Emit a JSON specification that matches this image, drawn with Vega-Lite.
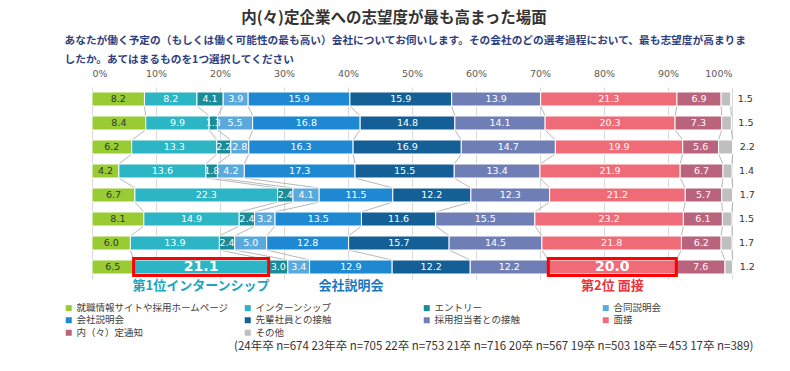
{
  "$schema": "https://vega.github.io/schema/vega-lite/v6.json",
  "width": 640,
  "height": 192,
  "autosize": {"type": "none"},
  "padding": {"left": 92, "top": 87, "right": 58, "bottom": 92},
  "background": "white",
  "config": {"view": {"stroke": null}, "font": "Noto Sans CJK JP"},
  "title": {
    "text": "内(々)定企業への志望度が最も高まった場面",
    "font": "Noto Sans CJK JP",
    "fontSize": 15.5,
    "fontWeight": "bold",
    "color": "#333333",
    "anchor": "middle",
    "dx": -18,
    "offset": 8
  },
  "data": {
    "values": [
      {"y": "17卒", "就職情報サイトや採用ホームページ": 8.2, "インターンシップ": 8.2, "エントリー": 4.1, "合同説明会": 3.9, "会社説明会": 15.9, "先輩社員との接触": 15.9, "採用担当者との接触": 13.9, "面接": 21.3, "内（々）定通知": 6.9, "その他": 1.5},
      {"y": "18卒", "就職情報サイトや採用ホームページ": 8.4, "インターンシップ": 9.9, "エントリー": 1.3, "合同説明会": 5.5, "会社説明会": 16.8, "先輩社員との接触": 14.8, "採用担当者との接触": 14.1, "面接": 20.3, "内（々）定通知": 7.3, "その他": 1.5},
      {"y": "19卒", "就職情報サイトや採用ホームページ": 6.2, "インターンシップ": 13.3, "エントリー": 2.2, "合同説明会": 2.8, "会社説明会": 16.3, "先輩社員との接触": 16.9, "採用担当者との接触": 14.7, "面接": 19.9, "内（々）定通知": 5.6, "その他": 2.2},
      {"y": "20卒", "就職情報サイトや採用ホームページ": 4.2, "インターンシップ": 13.6, "エントリー": 1.8, "合同説明会": 4.2, "会社説明会": 17.3, "先輩社員との接触": 15.5, "採用担当者との接触": 13.4, "面接": 21.9, "内（々）定通知": 6.7, "その他": 1.4},
      {"y": "21卒", "就職情報サイトや採用ホームページ": 6.7, "インターンシップ": 22.3, "エントリー": 2.4, "合同説明会": 4.1, "会社説明会": 11.5, "先輩社員との接触": 12.2, "採用担当者との接触": 12.3, "面接": 21.2, "内（々）定通知": 5.7, "その他": 1.7},
      {"y": "22卒", "就職情報サイトや採用ホームページ": 8.1, "インターンシップ": 14.9, "エントリー": 2.4, "合同説明会": 3.2, "会社説明会": 13.5, "先輩社員との接触": 11.6, "採用担当者との接触": 15.5, "面接": 23.2, "内（々）定通知": 6.1, "その他": 1.5},
      {"y": "23卒", "就職情報サイトや採用ホームページ": 6.0, "インターンシップ": 13.9, "エントリー": 2.4, "合同説明会": 5.0, "会社説明会": 12.8, "先輩社員との接触": 15.7, "採用担当者との接触": 14.5, "面接": 21.8, "内（々）定通知": 6.2, "その他": 1.7},
      {"y": "24卒", "就職情報サイトや採用ホームページ": 6.5, "インターンシップ": 21.1, "エントリー": 3.0, "合同説明会": 3.4, "会社説明会": 12.9, "先輩社員との接触": 12.2, "採用担当者との接触": 12.2, "面接": 20.0, "内（々）定通知": 7.6, "その他": 1.2}
    ]
  },
  "transform": [
    {"fold": ["就職情報サイトや採用ホームページ", "インターンシップ", "エントリー", "合同説明会", "会社説明会", "先輩社員との接触", "採用担当者との接触", "面接", "内（々）定通知", "その他"], "as": ["c", "v"]},
    {"window": [{"op": "row_number", "as": "k"}], "groupby": ["y"]}
  ],
  "layer": [
    {
      "transform": [
        {"window": [{"op": "sum", "field": "v", "as": "cum"}], "groupby": ["y"], "sort": [{"field": "k"}], "frame": [null, 0]},
        {"window": [{"op": "lead", "field": "cum", "as": "ncum"}, {"op": "lead", "field": "y", "as": "ny"}], "groupby": ["c"], "sort": [{"field": "y"}]},
        {"filter": "datum.ny != null"}
      ],
      "mark": {"type": "rule", "color": "#a6a6a6", "strokeWidth": 0.8, "yOffset": 7, "y2Offset": -7},
      "encoding": {
        "x": {"field": "cum", "type": "quantitative", "scale": {"domain": [0, 100], "nice": false}, "axis": null},
        "x2": {"field": "ncum"},
        "y": {"field": "y", "type": "nominal", "axis": null},
        "y2": {"field": "ny"}
      }
    },
    {
      "mark": {"type": "bar", "stroke": "white", "strokeWidth": 1},
      "encoding": {
        "x": {
          "field": "v", "type": "quantitative", "stack": "zero",
          "scale": {"domain": [0, 100], "nice": false},
          "axis": {
            "orient": "top",
            "values": [0, 10, 20, 30, 40, 50, 60, 70, 80, 90, 100],
            "labelExpr": "datum.value + '%'",
            "grid": true, "gridColor": "#d9d9d9", "gridWidth": 1,
            "ticks": false, "tickSize": 0, "domain": false,
            "labelPadding": 9, "labelFont": "DejaVu Sans", "labelFontSize": 9.5, "labelColor": "#595959",
            "title": ["あなたが働く予定の（もしくは働く可能性の最も高い）会社についてお伺いします。その会社のどの選考過程において、最も志望度が高まりま", "したか。あてはまるものを1つ選択してください"],
            "titleX": -28, "titleY": -52, "titleAlign": "left", "titleBaseline": "top", "titleAnchor": "start",
            "titleFont": "Noto Sans CJK JP", "titleFontSize": 10.7, "titleFontWeight": "bold", "titleColor": "#2e3f80", "titleLineHeight": 19.5
          }
        },
        "y": {
          "field": "y", "type": "nominal", "title": null,
          "scale": {"paddingInner": 0.4167, "paddingOuter": 0.2083},
          "axis": {"ticks": false, "domain": false, "labelPadding": 10, "labelFont": "DejaVu Sans, Noto Sans CJK JP", "labelFontSize": 11, "labelColor": "#404040"}
        },
        "color": {
          "field": "c", "type": "nominal",
          "scale": {
            "domain": ["就職情報サイトや採用ホームページ", "インターンシップ", "エントリー", "合同説明会", "会社説明会", "先輩社員との接触", "採用担当者との接触", "面接", "内（々）定通知", "その他"],
            "range": ["#99cc33", "#2bb5c5", "#1a8c99", "#5ba9dc", "#1f88d2", "#135f96", "#6f7fb5", "#f06b78", "#b9647c", "#bfbfbf"]
          },
          "legend": {
            "orient": "none", "legendX": -28, "legendY": 216, "columns": 4, "gridAlign": "all",
            "columnPadding": 14, "rowPadding": 1.5, "symbolType": "square", "symbolSize": 36, "symbolStrokeWidth": 0,
            "labelFont": "Noto Sans CJK JP", "labelFontSize": 9.5, "labelColor": "#404040", "labelLimit": 400,
            "title": null, "labelOffset": 3, "direction": "horizontal"
          }
        },
        "detail": {"field": "c"},
        "order": {"field": "k", "type": "quantitative"}
      }
    },
    {
      "mark": {"type": "bar", "fillOpacity": 0, "stroke": "#ff0000", "strokeWidth": 3, "height": 17},
      "encoding": {
        "x": {"field": "v", "type": "quantitative", "stack": "zero", "axis": null},
        "y": {"field": "y", "type": "nominal", "axis": null},
        "detail": {"field": "c"},
        "order": {"field": "k", "type": "quantitative"},
        "strokeOpacity": {"condition": {"test": "datum.y == '24卒' && (datum.c == 'インターンシップ' || datum.c == '面接')", "value": 1}, "value": 0}
      }
    },
    {
      "mark": {"type": "text", "font": "DejaVu Sans", "fontSize": 9.5, "baseline": "middle", "align": "center"},
      "encoding": {
        "x": {"field": "v", "type": "quantitative", "stack": "zero", "bandPosition": 0.5, "axis": null},
        "y": {"field": "y", "type": "nominal", "axis": null},
        "detail": {"field": "c"},
        "order": {"field": "k", "type": "quantitative"},
        "text": {"field": "v", "type": "quantitative", "format": ".1f"},
        "color": {"condition": {"test": "datum.c == '就職情報サイトや採用ホームページ'", "value": "#333333"}, "value": "#ffffff"},
        "opacity": {"condition": {"test": "(datum.y == '24卒' && (datum.c == 'インターンシップ' || datum.c == '面接')) || datum.c == 'その他'", "value": 0}, "value": 1}
      }
    },
    {
      "mark": {"type": "text", "font": "DejaVu Sans", "fontSize": 14, "fontWeight": "bold", "baseline": "middle", "align": "center", "color": "#ffffff"},
      "encoding": {
        "x": {"field": "v", "type": "quantitative", "stack": "zero", "bandPosition": 0.5, "axis": null},
        "y": {"field": "y", "type": "nominal", "axis": null},
        "detail": {"field": "c"},
        "order": {"field": "k", "type": "quantitative"},
        "text": {"field": "v", "type": "quantitative", "format": ".1f"},
        "opacity": {"condition": {"test": "datum.y == '24卒' && (datum.c == 'インターンシップ' || datum.c == '面接')", "value": 1}, "value": 0}
      }
    },
    {
      "mark": {"type": "text", "font": "DejaVu Sans", "fontSize": 9.5, "baseline": "middle", "align": "left", "dx": 7, "color": "#333333"},
      "encoding": {
        "x": {"field": "v", "type": "quantitative", "stack": "zero", "axis": null},
        "y": {"field": "y", "type": "nominal", "axis": null},
        "detail": {"field": "c"},
        "order": {"field": "k", "type": "quantitative"},
        "text": {"field": "v", "type": "quantitative", "format": ".1f"},
        "opacity": {"condition": {"test": "datum.c == 'その他'", "value": 1}, "value": 0}
      }
    },
    {
      "mark": {"type": "text", "font": "Noto Sans CJK JP", "fontSize": 13, "fontWeight": "bold", "baseline": "middle", "align": "center", "dy": 19},
      "encoding": {
        "x": {
          "field": "v", "type": "quantitative", "stack": "zero", "bandPosition": 0.5,
          "axis": {
            "orient": "bottom", "labels": false, "ticks": false, "domain": false, "grid": false,
            "title": "(24年卒 n=674 23年卒 n=705 22卒 n=753 21卒  n=716 20卒 n=567 19卒 n=503 18卒＝453 17卒 n=389)",
            "titleX": 661, "titleY": 67, "titleAlign": "right", "titleBaseline": "middle",
            "titleFont": "Noto Sans CJK JP", "titleFontSize": 11.5, "titleFontWeight": "normal", "titleColor": "#333333"
          }
        },
        "y": {"field": "y", "type": "nominal", "axis": null},
        "detail": {"field": "c"},
        "order": {"field": "k", "type": "quantitative"},
        "text": {
          "condition": [
            {"test": "datum.y == '24卒' && datum.c == 'インターンシップ'", "value": "第1位インターンシップ"},
            {"test": "datum.y == '24卒' && datum.c == '会社説明会'", "value": "会社説明会"},
            {"test": "datum.y == '24卒' && datum.c == '面接'", "value": "第2位 面接"}
          ],
          "value": ""
        },
        "color": {
          "condition": [
            {"test": "datum.c == 'インターンシップ'", "value": "#19a5bd"},
            {"test": "datum.c == '面接'", "value": "#e9343b"}
          ],
          "value": "#1b76c2"
        }
      }
    }
  ],
  "resolve": {"axis": {"x": "independent"}}
}
